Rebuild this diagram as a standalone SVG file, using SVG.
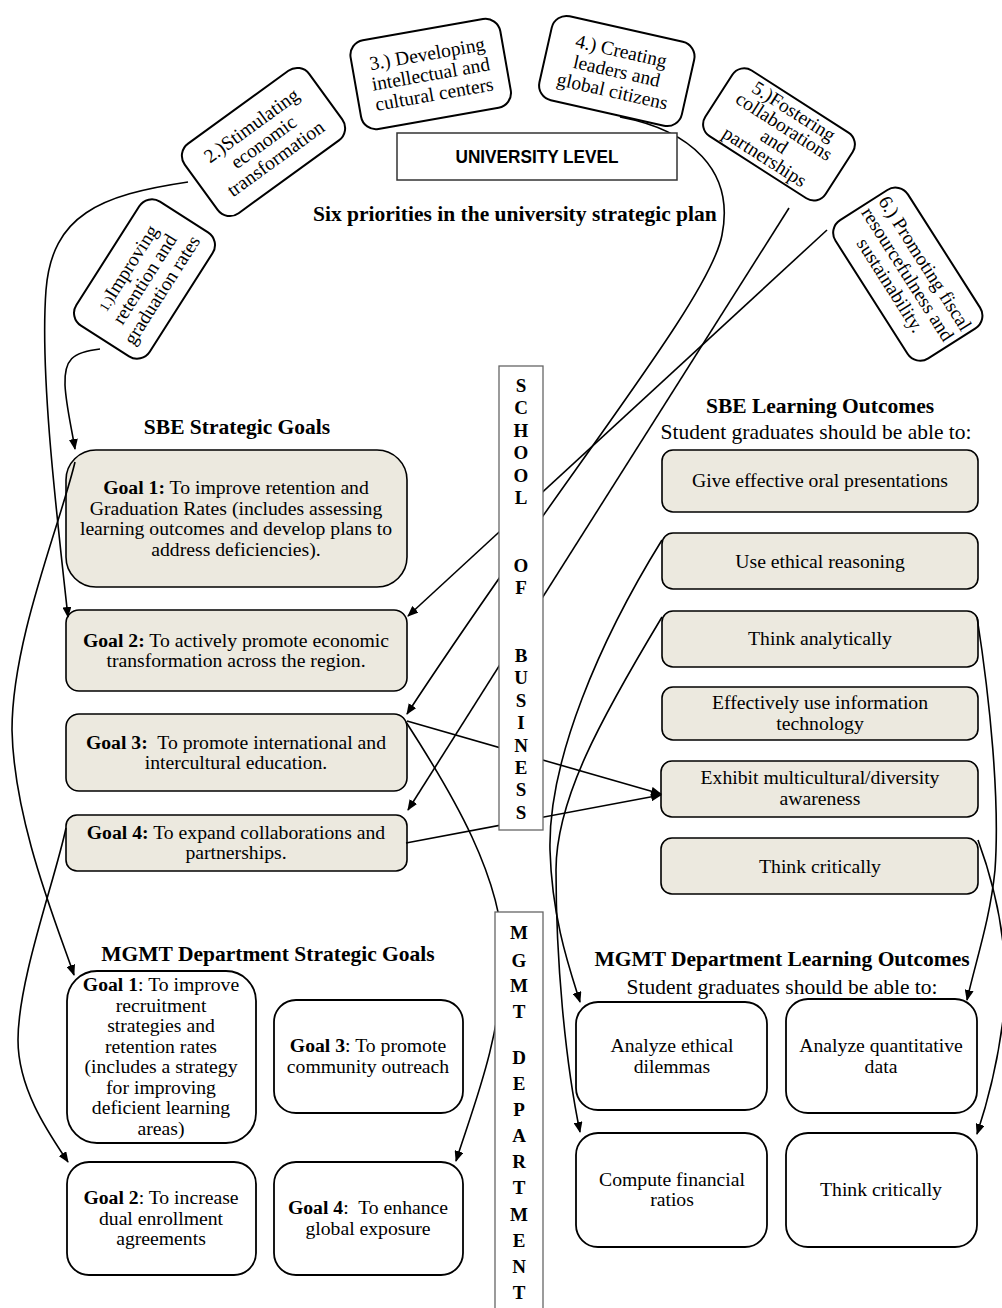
<svg xmlns="http://www.w3.org/2000/svg" width="1002" height="1308" viewBox="0 0 1002 1308">
<defs>
<marker id="arr" markerWidth="11" markerHeight="9" refX="10" refY="4.5" orient="auto" markerUnits="userSpaceOnUse">
<path d="M0,0 L11,4.5 L0,9 z" fill="#000"/>
</marker>
</defs>
<style>
.t{font-family:"Liberation Serif","Times New Roman",serif;font-size:19.7px;fill:#000}
.c{text-anchor:middle}
.b{font-weight:bold}
.s{font-size:21.5px}
.h{font-family:"Liberation Serif","Times New Roman",serif;font-size:21.5px;font-weight:bold;fill:#000}
.r{font-family:"Liberation Serif","Times New Roman",serif;font-size:19.5px;fill:#000;text-anchor:middle}
.v{font-family:"Liberation Serif","Times New Roman",serif;font-size:19px;font-weight:bold;fill:#000;text-anchor:middle}
.pri{fill:#fff;stroke:#000;stroke-width:2}
.sg{fill:#ECE9DF;stroke:#000;stroke-width:1.6}
.mg{fill:#fff;stroke:#000;stroke-width:1.8}
.col{fill:#fff;stroke:#666;stroke-width:1.3}
.ln{fill:none;stroke:#000;stroke-width:1.6}
</style>

<!-- SBE strategic goal boxes (drawn under connectors) -->
<g id="sbe-goal1"><rect class="sg" x="66" y="450" width="341" height="137" rx="30"/>
<text class="t c" x="236" y="494"><tspan class="b">Goal 1:</tspan> To improve retention and</text>
<text class="t c" x="236" y="514.6">Graduation Rates (includes assessing</text>
<text class="t c" x="236" y="535.2">learning outcomes and develop plans to</text>
<text class="t c" x="236" y="555.8">address deficiencies).</text></g>
<g id="sbe-goal2"><rect class="sg" x="66" y="610" width="341" height="81" rx="13"/>
<text class="t c" x="236" y="647"><tspan class="b">Goal 2:</tspan> To actively promote economic</text>
<text class="t c" x="236" y="667">transformation across the region.</text></g>
<g id="sbe-goal3"><rect class="sg" x="66" y="714" width="341" height="77" rx="13"/>
<text class="t c" x="236" y="749"><tspan class="b">Goal 3:</tspan>&#160; To promote international and</text>
<text class="t c" x="236" y="769">intercultural education.</text></g>
<g id="sbe-goal4"><rect class="sg" x="66" y="815" width="341" height="56" rx="11"/>
<text class="t c" x="236" y="839"><tspan class="b">Goal 4:</tspan> To expand collaborations and</text>
<text class="t c" x="236" y="859">partnerships.</text></g>

<!-- SBE learning outcomes -->
<g id="lo-oral"><rect class="sg" x="662" y="450" width="316" height="62" rx="11"/>
<text class="t c" x="820" y="487">Give effective oral presentations</text></g>
<g id="lo-ethical"><rect class="sg" x="662" y="533" width="316" height="56" rx="11"/>
<text class="t c" x="820" y="568">Use ethical reasoning</text></g>
<g id="lo-analytic"><rect class="sg" x="662" y="611" width="316" height="56" rx="11"/>
<text class="t c" x="820" y="645">Think analytically</text></g>
<g id="lo-it"><rect class="sg" x="662" y="687" width="316" height="53" rx="11"/>
<text class="t c" x="820" y="709">Effectively use information</text>
<text class="t c" x="820" y="730">technology</text></g>
<g id="lo-multi"><rect class="sg" x="661" y="761" width="317" height="56" rx="11"/>
<text class="t c" x="820" y="784">Exhibit multicultural/diversity</text>
<text class="t c" x="820" y="805">awareness</text></g>
<g id="lo-critical"><rect class="sg" x="661" y="838" width="317" height="56" rx="11"/>
<text class="t c" x="820" y="873">Think critically</text></g>

<!-- MGMT goals -->
<g id="mg-goal1"><rect class="mg" x="67" y="971" width="189" height="172" rx="30"/>
<text class="t c" x="161" y="991"><tspan class="b">Goal 1</tspan>: To improve</text>
<text class="t c" x="161" y="1011.5">recruitment</text>
<text class="t c" x="161" y="1032">strategies and</text>
<text class="t c" x="161" y="1052.5">retention rates</text>
<text class="t c" x="161" y="1073">(includes a strategy</text>
<text class="t c" x="161" y="1093.5">for improving</text>
<text class="t c" x="161" y="1114">deficient learning</text>
<text class="t c" x="161" y="1134.5">areas)</text></g>
<g id="mg-goal3"><rect class="mg" x="274" y="1000" width="189" height="113" rx="22"/>
<text class="t c" x="368" y="1052"><tspan class="b">Goal 3</tspan>: To promote</text>
<text class="t c" x="368" y="1073">community outreach</text></g>
<g id="mg-goal2"><rect class="mg" x="67" y="1162" width="189" height="113" rx="22"/>
<text class="t c" x="161" y="1204"><tspan class="b">Goal 2</tspan>: To increase</text>
<text class="t c" x="161" y="1224.5">dual enrollment</text>
<text class="t c" x="161" y="1245">agreements</text></g>
<g id="mg-goal4"><rect class="mg" x="274" y="1162" width="189" height="113" rx="22"/>
<text class="t c" x="368" y="1214"><tspan class="b">Goal 4</tspan>:&#160; To enhance</text>
<text class="t c" x="368" y="1235">global exposure</text></g>

<!-- MGMT learning outcomes -->
<g id="mlo-ethical"><rect class="mg" x="576" y="1002" width="191" height="108" rx="22"/>
<text class="t c" x="672" y="1052">Analyze ethical</text>
<text class="t c" x="672" y="1073">dilemmas</text></g>
<g id="mlo-quant"><rect class="mg" x="786" y="999" width="191" height="114" rx="22"/>
<text class="t c" x="881" y="1052">Analyze quantitative</text>
<text class="t c" x="881" y="1073">data</text></g>
<g id="mlo-ratios"><rect class="mg" x="576" y="1133" width="191" height="114" rx="22"/>
<text class="t c" x="672" y="1186">Compute financial</text>
<text class="t c" x="672" y="1206">ratios</text></g>
<g id="mlo-critical"><rect class="mg" x="786" y="1133" width="191" height="114" rx="22"/>
<text class="t c" x="881" y="1196">Think critically</text></g>

<!-- connectors -->
<g id="connectors">
<path class="ln" d="M100,349 C72,352 64,360 65,385 C66,405 71,425 75,449" marker-end="url(#arr)"/>
<path class="ln" d="M188,182 C100,195 52,215 46,290 C40,370 55,500 68,617" marker-end="url(#arr)"/>
<path class="ln" d="M620,117 C690,130 735,170 722,235 C710,300 560,480 407,714" marker-end="url(#arr)"/>
<path class="ln" d="M789,208 L408,810" marker-end="url(#arr)"/>
<path class="ln" d="M827,230 L408,616" marker-end="url(#arr)"/>
<path class="ln" d="M407,721 L661,794" marker-end="url(#arr)"/>
<path class="ln" d="M406,843 L661,795" marker-end="url(#arr)"/>
<path class="ln" d="M406,722 C450,790 505,880 503,960 C501,1040 472,1110 456,1161" marker-end="url(#arr)"/>
<path class="ln" d="M75,462 C60,525 12,640 12,730 C14,820 55,920 74,975" marker-end="url(#arr)"/>
<path class="ln" d="M66,828 C55,880 18,980 18,1040 C18,1090 50,1135 68,1162" marker-end="url(#arr)"/>
<path class="ln" d="M662,540 C600,640 548,760 550,850 C552,920 570,970 580,1002" marker-end="url(#arr)"/>
<path class="ln" d="M662,617 C600,720 556,800 556,870 C556,960 565,1060 580,1132" marker-end="url(#arr)"/>
<path class="ln" d="M977,617 C990,700 1000,800 995,870 C990,920 976,960 967,1000" marker-end="url(#arr)"/>
<path class="ln" d="M978,840 C1000,900 1010,960 1003,1020 C996,1075 985,1110 977,1134" marker-end="url(#arr)"/>
</g>

<!-- vertical column boxes -->
<g id="school-of-business"><rect class="col" x="499" y="366" width="44" height="464"/>
<text class="v" x="521" y="392">S<tspan x="521" dy="22.47">C</tspan><tspan x="521" dy="22.47">H</tspan><tspan x="521" dy="22.47">O</tspan><tspan x="521" dy="22.47">O</tspan><tspan x="521" dy="22.47">L</tspan><tspan x="521" dy="67.41">O</tspan><tspan x="521" dy="22.47">F</tspan><tspan x="521" dy="67.41">B</tspan><tspan x="521" dy="22.47">U</tspan><tspan x="521" dy="22.47">S</tspan><tspan x="521" dy="22.47">I</tspan><tspan x="521" dy="22.47">N</tspan><tspan x="521" dy="22.47">E</tspan><tspan x="521" dy="22.47">S</tspan><tspan x="521" dy="22.47">S</tspan></text></g>
<g id="mgmt-department"><rect class="col" x="495" y="912" width="48" height="420"/>
<text class="v" x="519" y="939">M</text><text class="v" x="519" y="967">G</text><text class="v" x="519" y="992">M</text><text class="v" x="519" y="1018">T</text>
<text class="v" x="519" y="1064">D</text><text class="v" x="519" y="1090">E</text><text class="v" x="519" y="1116">P</text><text class="v" x="519" y="1142">A</text><text class="v" x="519" y="1168">R</text><text class="v" x="519" y="1194">T</text><text class="v" x="519" y="1221">M</text><text class="v" x="519" y="1247">E</text><text class="v" x="519" y="1273">N</text><text class="v" x="519" y="1299">T</text></g>

<!-- priority boxes -->
<g id="p1" transform="translate(144.5,279) rotate(-57.5)"><rect class="pri" x="-73.5" y="-43.5" width="147" height="87" rx="15"/>
<text class="r" x="0" y="-14"><tspan font-size="14">1.)</tspan>Improving</text>
<text class="r" x="0" y="6.5">retention and</text>
<text class="r" x="0" y="27">graduation rates</text></g>
<g id="p2" transform="translate(263.5,142) rotate(-36)"><rect class="pri" x="-77" y="-43" width="154" height="86" rx="15"/>
<text class="r" x="0" y="-14">2.)Stimulating</text>
<text class="r" x="0" y="6.5">economic</text>
<text class="r" x="0" y="27">transformation</text></g>
<g id="p3" transform="translate(430.7,74) rotate(-10)"><rect class="pri" x="-76" y="-45" width="152" height="90" rx="15"/>
<text class="r" x="0" y="-14">3.) Developing</text>
<text class="r" x="0" y="6.5">intellectual and</text>
<text class="r" x="0" y="27">cultural centers</text></g>
<g id="p4" transform="translate(616.8,71) rotate(12.7)"><rect class="pri" x="-73" y="-43" width="146" height="86" rx="15"/>
<text class="r" x="0" y="-14">4.) Creating</text>
<text class="r" x="0" y="6.5">leaders and</text>
<text class="r" x="0" y="27">global citizens</text></g>
<g id="p5" transform="translate(779,134.4) rotate(32.7)"><rect class="pri" x="-71.5" y="-39" width="143" height="78" rx="14"/>
<text class="r" x="0" y="-21" font-size="18.5">5.)Fostering</text>
<text class="r" x="0" y="-3" font-size="18.5">collaborations</text>
<text class="r" x="0" y="15" font-size="18.5">and</text>
<text class="r" x="0" y="33" font-size="18.5">partnerships</text></g>
<g id="p6" transform="translate(907.8,274.2) rotate(57.5)"><rect class="pri" x="-82" y="-43" width="164" height="86" rx="15"/>
<text class="r" x="0" y="-14">6.) Promoting fiscal</text>
<text class="r" x="0" y="6.5">resourcefulness and</text>
<text class="r" x="0" y="27">sustainability.</text></g>

<g id="university-level"><rect x="397" y="133" width="280" height="47" fill="#fff" stroke="#333" stroke-width="1.5"/>
<text x="537" y="163" text-anchor="middle" font-family="'Liberation Sans',Arial,sans-serif" font-weight="bold" font-size="18" textLength="163" lengthAdjust="spacingAndGlyphs">UNIVERSITY LEVEL</text></g>

<!-- titles -->
<text class="h" x="313" y="221">Six priorities in the university strategic plan</text>
<text class="h c" x="237" y="434">SBE Strategic Goals</text>
<text class="h c" x="820" y="413">SBE Learning Outcomes</text>
<text class="t s c" x="816" y="439">Student graduates should be able to:</text>
<text class="h c" x="268" y="961">MGMT Department Strategic Goals</text>
<text class="h c" x="782" y="966">MGMT Department Learning Outcomes</text>
<text class="t s c" x="782" y="994">Student graduates should be able to:</text>
</svg>
